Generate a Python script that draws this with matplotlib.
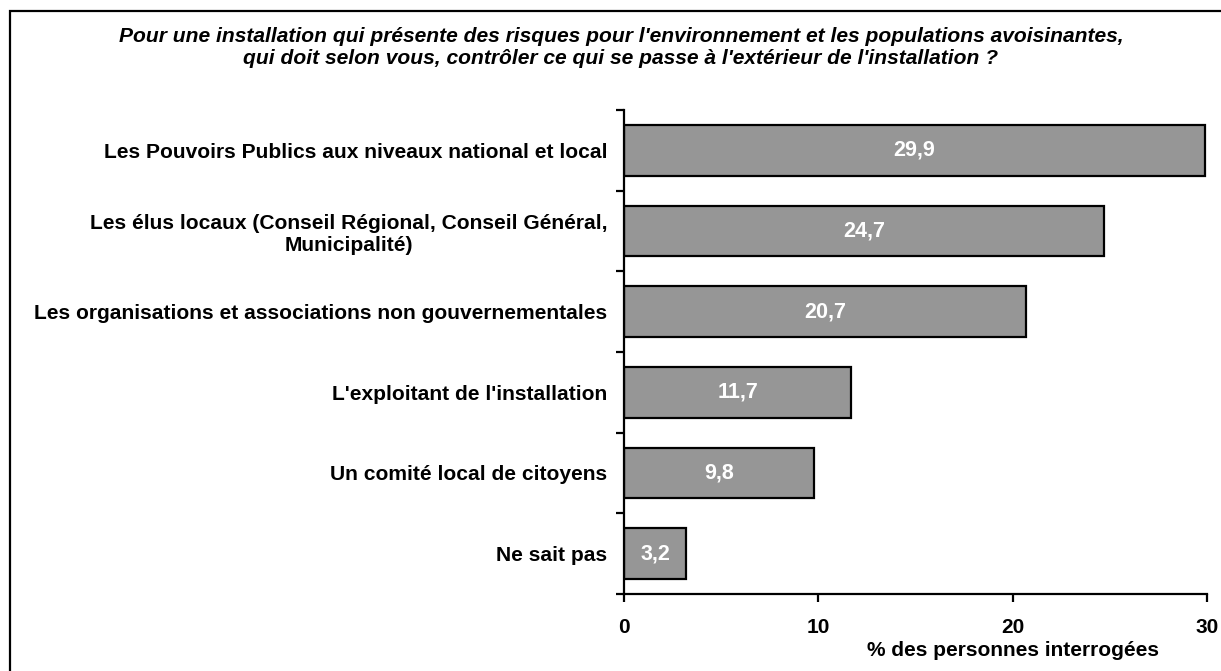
import matplotlib
matplotlib.use("Agg")
import matplotlib.pyplot as plt
from matplotlib.patches import Rectangle

plt.rcParams['font.family'] = ['Liberation Sans', 'DejaVu Sans']

categories = [
    "Les Pouvoirs Publics aux niveaux national et local",
    "Les élus locaux (Conseil Régional, Conseil Général,\nMunicipalité)",
    "Les organisations et associations non gouvernementales",
    "L'exploitant de l'installation",
    "Un comité local de citoyens",
    "Ne sait pas",
]
values = [29.9, 24.7, 20.7, 11.7, 9.8, 3.2]
value_labels = ["29,9", "24,7", "20,7", "11,7", "9,8", "3,2"]
xticks = [0, 10, 20, 30]
title = ("Pour une installation qui présente des risques pour l'environnement et les populations avoisinantes,\n"
         "qui doit selon vous, contrôler ce qui se passe à l'extérieur de l'installation ?")
xlabel = "% des personnes interrogées"

FS = 15.1
W, H = 1221, 671
fig = plt.figure(figsize=(W / 100, H / 100), dpi=100)

# border frame
fig.patches.append(Rectangle((10 / W, -0.01), 1.2, (H - 11) / H + 0.01, transform=fig.transFigure,
                             fill=False, edgecolor='black', linewidth=1.6))

ax_left, ax_right = 624 / W, 1207 / W
ax_top, ax_bot = 110 / H, 594 / H
ax = fig.add_axes([ax_left, 1 - ax_bot, ax_right - ax_left, ax_bot - ax_top])

n = len(categories)
ypos = list(range(n))
ax.barh(ypos, values, height=0.63, color='#969696', edgecolor='black', linewidth=1.6)
ax.set_ylim(n - 0.5, -0.5)
ax.set_xlim(0, 30)

for y, v, lab in zip(ypos, values, value_labels):
    ax.text(v / 2, y, lab, color='white', fontweight='bold', fontsize=15.5,
            ha='center', va='center')

ax.set_yticks([i - 0.5 for i in range(n + 1)])
ax.set_yticklabels([])
ax.set_yticks(ypos, minor=True)
ax.set_yticklabels(categories, minor=True, fontweight='bold', fontsize=FS, ha='right',
                   multialignment='center', linespacing=1.2)
ax.tick_params(axis='y', which='minor', length=0, pad=12)
ax.tick_params(axis='y', which='major', length=6, width=1.6, direction='out')

ax.set_xticks(xticks)
ax.set_xticklabels([str(t) for t in xticks], fontweight='bold', fontsize=15)
ax.tick_params(axis='x', length=6, width=1.6, direction='out', pad=11)

for s in ['top', 'right']:
    ax.spines[s].set_visible(False)
for s in ['left', 'bottom']:
    ax.spines[s].set_linewidth(1.6)

fig.text(1013 / W, 1 - 650 / H, xlabel, ha='center', va='center', fontweight='bold', fontsize=15)
fig.text(621 / W, 1 - 48 / H, title, ha='center', va='center', fontweight='bold',
         fontstyle='italic', fontsize=15.1, linespacing=1.2)

fig.savefig("out.png", dpi=100)
